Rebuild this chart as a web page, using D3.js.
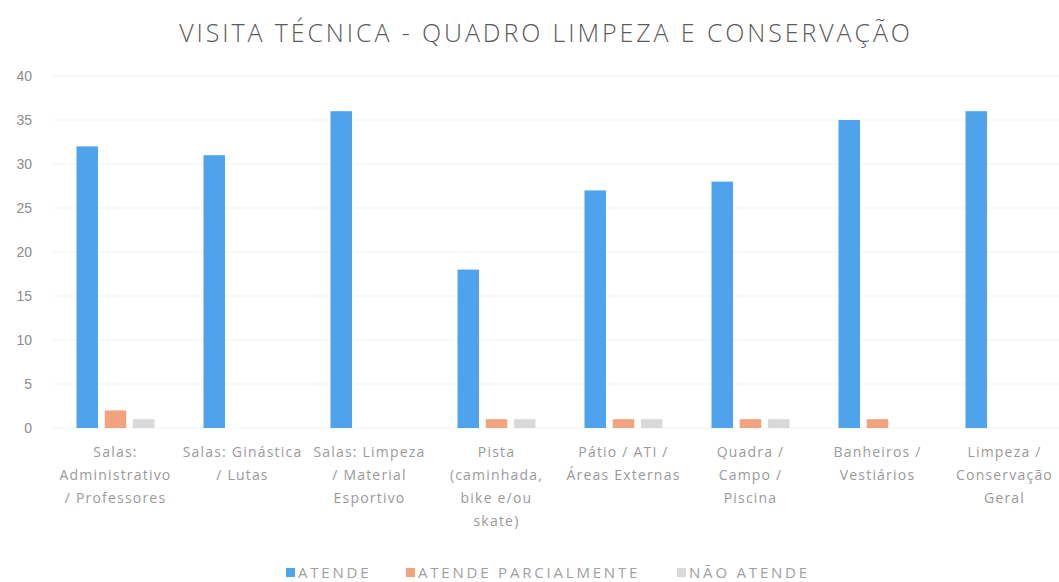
<!DOCTYPE html>
<html>
<head>
<meta charset="UTF-8">
<title>Visita Técnica - Quadro Limpeza e Conservação</title>
<script src="https://d3js.org/d3.v7.min.js"></script>
<style>
  body { margin: 0; background: #fff; }
  svg { font-family: "Open Sans", "Noto Sans", sans-serif; }
  .title { font-size: 25px; fill: #5a5a5a; letter-spacing: 2.9px; font-weight: 300; }
  .tick text { font-size: 14px; fill: #8c8c8c; }
  .cat { font-size: 14px; fill: #9a9a9a; letter-spacing: 1.2px; }
  .leg { font-size: 15px; fill: #a0a0a0; letter-spacing: 2.8px; }
</style>
</head>
<body>
<script>
// categories (x labels, already split in lines)
var categories = [
  ["Salas:", "Administrativo", "/ Professores"],
  ["Salas: Ginástica", "/ Lutas"],
  ["Salas: Limpeza", "/ Material", "Esportivo"],
  ["Pista", "(caminhada,", "bike e/ou", "skate)"],
  ["Pátio / ATI /", "Áreas Externas"],
  ["Quadra /", "Campo /", "Piscina"],
  ["Banheiros /", "Vestiários"],
  ["Limpeza /", "Conservação", "Geral"]
];
var seriesNames = ["ATENDE", "ATENDE PARCIALMENTE", "NÃO ATENDE"];
var atende = [32, 31, 36, 18, 27, 28, 35, 36];
var parcial = [2, 0, 0, 1, 1, 1, 1, 0];
var naoAtende = [1, 0, 0, 1, 1, 1, 0, 0];
var yTicks = [0, 5, 10, 15, 20, 25, 30, 35, 40];
var colors = ["#4fa3ec", "#f2a27c", "#d9d9d9"];

var series = [atende, parcial, naoAtende];
var W = 1059, H = 582;
var margin = { left: 52, right: -9, top: 76, bottom: 154 };

var svg = d3.select("body").append("svg")
  .attr("width", W).attr("height", H);

svg.append("text").attr("class", "title")
  .attr("x", 546).attr("y", 42).attr("text-anchor", "middle")
  .text("VISITA TÉCNICA - QUADRO LIMPEZA E CONSERVAÇÃO");

var x = d3.scaleBand().domain(d3.range(categories.length))
  .range([margin.left, W - margin.right]);
var y = d3.scaleLinear().domain([0, 40]).range([H - margin.bottom, margin.top]);
var inner = d3.scaleBand().domain(d3.range(3))
  .range([x.bandwidth() / 2 - 39, x.bandwidth() / 2 + 39]).paddingInner(0.24);

// faint gridlines
svg.append("g").selectAll("line").data(yTicks).join("line")
  .attr("x1", margin.left).attr("x2", W)
  .attr("y1", function(d) { return y(d); }).attr("y2", function(d) { return y(d); })
  .attr("stroke", "#f3f3f3").attr("stroke-width", 1);

var yAxis = svg.append("g").attr("transform", "translate(" + 38 + ",0)")
  .call(d3.axisLeft(y).tickValues(yTicks).tickSize(0).tickPadding(6));
yAxis.select(".domain").remove();

var groups = svg.append("g").selectAll("g").data(categories).join("g")
  .attr("transform", function(d, i) { return "translate(" + x(i) + ",0)"; });

groups.selectAll("rect").data(function(d, i) {
    return series.map(function(s, k) { return { k: k, v: s[i] }; });
  }).join("rect")
  .attr("x", function(d) { return inner(d.k); })
  .attr("width", inner.bandwidth())
  .attr("y", function(d) { return y(d.v); })
  .attr("height", function(d) { return y(0) - y(d.v); })
  .attr("fill", function(d) { return colors[d.k]; });

groups.append("text").attr("class", "cat")
  .attr("text-anchor", "middle")
  .attr("x", x.bandwidth() / 2)
  .selectAll("tspan").data(function(d) { return d; }).join("tspan")
  .attr("x", x.bandwidth() / 2)
  .attr("y", function(d, j) { return 457 + j * 23; })
  .text(function(d) { return d; });

// legend
var legX = [286, 406, 677];
var leg = svg.append("g").selectAll("g").data(seriesNames).join("g")
  .attr("transform", function(d, i) { return "translate(" + legX[i] + ",578)"; });
leg.append("rect").attr("x", 0).attr("y", -10).attr("width", 9).attr("height", 9)
  .attr("fill", function(d, i) { return colors[i]; });
leg.append("text").attr("class", "leg").attr("x", 12).attr("y", 0).text(function(d) { return d; });
</script>
</body>
</html>
